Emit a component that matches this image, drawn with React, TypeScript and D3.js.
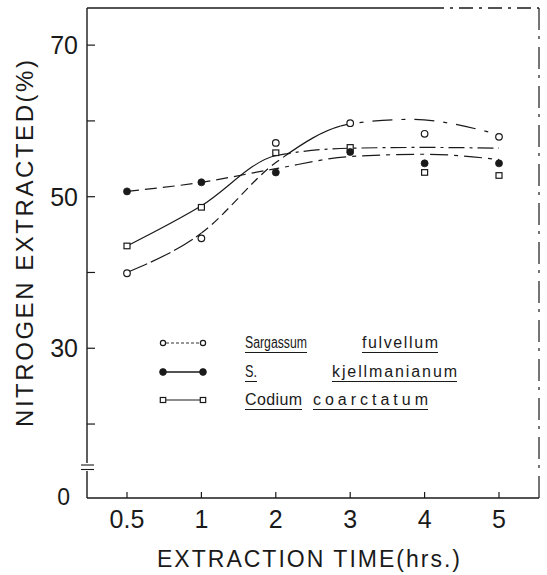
import React from 'react';
import * as d3 from 'd3';

// ---- data ----
const hours = [0.5, 1, 2, 3, 4, 5];
const hourLabels = ['0.5', '1', '2', '3', '4', '5'];
const yTicks = [20, 30, 40, 50, 60, 70];
const yTickLabels = ['', '30', '', '50', '', '70'];
const yBottomLabel = '0';

const sargassumPts = [39.9, 44.5, 57.1, 59.7, 58.3, 57.9];
const kjellPts = [50.7, 51.9, 53.2, 55.9, 54.4, 54.4];
const codiumPts = [43.5, 48.6, 55.8, 56.5, 53.2, 52.8];

const sargassumFitX = [0.5, 1, 2, 3, 3.8, 5];
const sargassumFitY = [40.0, 45.2, 54.5, 59.6, 60.2, 58.2];
const codiumFitX = [0.5, 1, 2, 3, 4, 5];
const codiumFitY = [43.5, 48.8, 55.4, 56.4, 56.5, 56.4];
const kjellFitX = [0.5, 1, 2, 3, 4, 5];
const kjellFitY = [50.7, 51.9, 53.7, 55.3, 55.6, 54.9];

const legendWords = [
  ['Sargassum', 'fulvellum'],
  ['S.', 'kjellmanianum'],
  ['Codium', 'coarctatum'],
];

const yTitle = 'NITROGEN EXTRACTED(%)';
const xTitle = 'EXTRACTION TIME(hrs.)';

// ---- layout ----
const W = 547, H = 575;
const L = 87, R = 539, T = 8, B = 498;
const X0 = 127, X1 = 499;
const INK = '#1a1a1a';
const FONT = '"Liberation Sans", Arial, sans-serif';
const LEG_FS = 16;

const x = d3.scaleLinear()
  .domain(hours)
  .range(hours.map((_, i) => X0 + (i * (X1 - X0)) / (hours.length - 1)));
const y = d3.scaleLinear().domain([10.24, 74.9]).range([B, T]);

const line = d3.line<[number, number]>()
  .x(d => x(d[0]))
  .y(d => y(d[1]))
  .curve(d3.curveMonotoneX);

const zip = (a: number[], b: number[]) => a.map((v, i) => [v, b[i]] as [number, number]);

let measureCtx: CanvasRenderingContext2D | null = null;
const measure = (s: string) => {
  if (!measureCtx) {
    measureCtx = document.createElement('canvas').getContext('2d');
  }
  if (!measureCtx) return s.length * LEG_FS * 0.5;
  measureCtx.font = `${LEG_FS}px "Liberation Sans"`;
  return measureCtx.measureText(s).width;
};

type Seg = { from: number; to: number; dash: string };
const curves: { id: string; d: string; segs: Seg[] }[] = [
  {
    id: 'sar',
    d: line(zip(sargassumFitX, sargassumFitY)) || '',
    segs: [
      { from: 0.4, to: 1, dash: '22,4' },
      { from: 1, to: 2.1, dash: '9,5' },
      { from: 2.1, to: 2.87, dash: '' },
      { from: 2.87, to: 5.1, dash: '20,9,4,9' },
    ],
  },
  {
    id: 'cod',
    d: line(zip(codiumFitX, codiumFitY)) || '',
    segs: [
      { from: 0.4, to: 2.15, dash: '' },
      { from: 2.15, to: 5.1, dash: '16,5,3,5' },
    ],
  },
  {
    id: 'kje',
    d: line(zip(kjellFitX, kjellFitY)) || '',
    segs: [
      { from: 0.4, to: 2, dash: '12,6' },
      { from: 2, to: 5.1, dash: '18,6,4,6' },
    ],
  },
];

const OpenCircle = ({ cx, cy, r = 3.3 }: { cx: number; cy: number; r?: number }) => (
  <circle cx={cx} cy={cy} r={r} fill="#fff" stroke={INK} strokeWidth={1.2} />
);
const FilledCircle = ({ cx, cy, r = 3.5 }: { cx: number; cy: number; r?: number }) => (
  <circle cx={cx} cy={cy} r={r} fill={INK} stroke={INK} strokeWidth={0.8} />
);
const Square = ({ cx, cy, r = 3 }: { cx: number; cy: number; r?: number }) => (
  <rect x={cx - r} y={cy - r * 0.93} width={2 * r} height={1.86 * r} fill="#fff" stroke={INK} strokeWidth={1.2} />
);

const LegendWord = ({ w, x0, y0, len }: { w: string; x0: number; y0: number; len: number }) => {
  const nat = measure(w);
  if (len < nat) {
    return (
      <text transform={`translate(${x0},${y0}) scale(${len / nat},1)`} fontFamily={FONT} fontSize={LEG_FS} fill={INK}>
        {w}
      </text>
    );
  }
  return (
    <text x={x0} y={y0} fontFamily={FONT} fontSize={LEG_FS} fill={INK} textLength={len} lengthAdjust="spacing">
      {w}
    </text>
  );
};

export default function App() {
  const legendRows = [
    { y: 343, Mark: OpenCircle, mr: 2.6, lineW: 0.9, dash: '3,2', words: legendWords[0], xs: [245, 362], lens: [62, 76] },
    { y: 372, Mark: FilledCircle, mr: 3.4, lineW: 1.5, dash: '', words: legendWords[1], xs: [245, 332], lens: [12, 125] },
    { y: 400, Mark: Square, mr: 2.7, lineW: 1.0, dash: '', words: legendWords[2], xs: [245, 313], lens: [57, 115] },
  ];
  return (
    <svg width={W} height={H} style={{ position: 'absolute', left: 0, top: 0, background: '#fff' }}>
      <defs>
        {curves.map(c =>
          c.segs.map((s, i) => (
            <clipPath key={c.id + i} id={`clip-${c.id}-${i}`}>
              <rect x={x(s.from)} y={0} width={x(s.to) - x(s.from)} height={H} />
            </clipPath>
          ))
        )}
      </defs>

      {/* frame */}
      <line x1={L} y1={T} x2={430} y2={T} stroke={INK} strokeWidth={1.4} />
      <line x1={430} y1={T} x2={R} y2={T} stroke={INK} strokeWidth={1.3} strokeDasharray="14,6,3,6" />
      <line x1={R} y1={T} x2={R} y2={B} stroke={INK} strokeWidth={1.2} strokeDasharray="22,6,3,8" />
      <line x1={L} y1={B} x2={R} y2={B} stroke={INK} strokeWidth={1.3} />
      <line x1={L} y1={T} x2={L} y2={463} stroke={INK} strokeWidth={1.4} />
      <line x1={L} y1={471} x2={L} y2={B} stroke={INK} strokeWidth={1.4} />
      <line x1={81} y1={465} x2={94} y2={465} stroke={INK} strokeWidth={1.1} />
      <line x1={81} y1={469.5} x2={94} y2={469.5} stroke={INK} strokeWidth={1.1} />

      {/* y ticks */}
      {yTicks.map((t, i) => (
        <g key={'yt' + t}>
          <line x1={L} x2={L + 8} y1={y(t)} y2={y(t)} stroke={INK} strokeWidth={1.2} />
          {yTickLabels[i] && (
            <text x={78} y={y(t) + 9} textAnchor="end" fontFamily={FONT} fontSize={25} fill={INK}>
              {yTickLabels[i]}
            </text>
          )}
        </g>
      ))}
      <text x={70} y={505} textAnchor="end" fontFamily={FONT} fontSize={23} fill={INK}>{yBottomLabel}</text>

      {/* x ticks */}
      {hours.map((h, i) => (
        <g key={'xt' + h}>
          <line x1={x(h)} x2={x(h)} y1={B} y2={B - 6} stroke={INK} strokeWidth={1.2} />
          <text x={x(h)} y={528} textAnchor="middle" fontFamily={FONT} fontSize={25} fill={INK}>
            {hourLabels[i]}
          </text>
        </g>
      ))}

      {/* titles */}
      <text x={308.5} y={567} textAnchor="middle" fontFamily={FONT} fontSize={23} fill={INK}
        textLength={303} lengthAdjust="spacing">{xTitle}</text>
      <text transform="translate(33,243.5) rotate(-90)" textAnchor="middle" fontFamily={FONT} fontSize={24}
        fill={INK} textLength={367} lengthAdjust="spacing">{yTitle}</text>

      {/* fitted curves */}
      {curves.map(c =>
        c.segs.map((s, i) => (
          <path key={c.id + 'p' + i} d={c.d} fill="none" stroke={INK} strokeWidth={1.2}
            strokeDasharray={s.dash || undefined} clipPath={`url(#clip-${c.id}-${i})`} />
        ))
      )}

      {/* points */}
      {hours.map((h, i) => <OpenCircle key={'s' + h} cx={x(h)} cy={y(sargassumPts[i])} />)}
      {hours.map((h, i) => <Square key={'c' + h} cx={x(h)} cy={y(codiumPts[i])} />)}
      {hours.map((h, i) => <FilledCircle key={'k' + h} cx={x(h)} cy={y(kjellPts[i])} />)}

      {/* legend */}
      {legendRows.map((r, ri) => (
        <g key={'lg' + ri}>
          <line x1={166} x2={200} y1={r.y} y2={r.y} stroke={INK} strokeWidth={r.lineW}
            strokeDasharray={r.dash || undefined} />
          <r.Mark cx={163} cy={r.y} r={r.mr} />
          <r.Mark cx={203} cy={r.y} r={r.mr} />
          {r.words.map((w, wi) => (
            <g key={w}>
              <LegendWord w={w} x0={r.xs[wi]} y0={r.y + 5} len={r.lens[wi]} />
              <line x1={r.xs[wi]} x2={r.xs[wi] + r.lens[wi]} y1={r.y + 9.5} y2={r.y + 9.5}
                stroke={INK} strokeWidth={1} />
            </g>
          ))}
        </g>
      ))}
    </svg>
  );
}
